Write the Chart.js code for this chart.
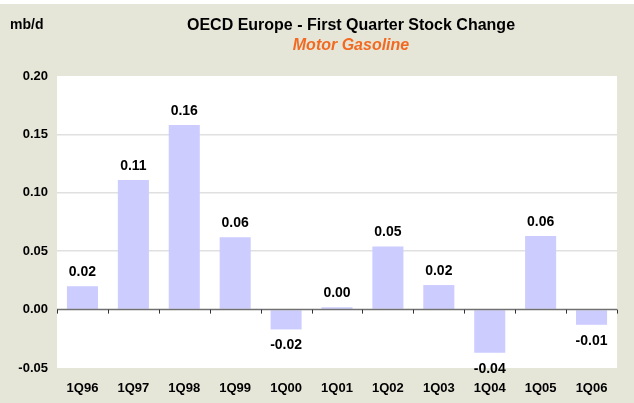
<!DOCTYPE html>
<html>
<head>
<meta charset="utf-8">
<script src="https://cdn.jsdelivr.net/npm/chart.js@4/dist/chart.umd.min.js"></script>
<style>
  html, body { margin: 0; padding: 0; background: #fff; }
  #wrap { width: 634px; height: 403px; position: relative; }
</style>
</head>
<body>
<div id="wrap"><canvas id="myChart" width="634" height="403"></canvas></div>
<script>
// chart data
var categories = ['1Q96', '1Q97', '1Q98', '1Q99', '1Q00', '1Q01', '1Q02', '1Q03', '1Q04', '1Q05', '1Q06'];
var stockChange = [0.020, 0.111, 0.158, 0.062, -0.017, 0.002, 0.054, 0.021, -0.037, 0.063, -0.013];
var yTicks = [-0.05, 0.00, 0.05, 0.10, 0.15, 0.20];

var FONT = "'Liberation Sans', Arial, Helvetica, sans-serif";

// beige background, titles and unit label
var frame = {
    id: 'frame',
    beforeDraw: function(chart) {
        var ctx = chart.ctx;
        ctx.save();
        ctx.fillStyle = '#E6E6D8';
        ctx.fillRect(0, 4, chart.width, chart.height - 4);
        var a = chart.chartArea;
        ctx.fillStyle = '#ffffff';
        ctx.fillRect(a.left, a.top, a.right - a.left, a.bottom - a.top);
        ctx.restore();
    },
    afterDraw: function(chart) {
        var ctx = chart.ctx;
        ctx.save();
        ctx.textAlign = 'center';
        ctx.textBaseline = 'middle';
        ctx.fillStyle = '#000';
        ctx.font = 'bold 16px ' + FONT;
        ctx.fillText('OECD Europe - First Quarter Stock Change', 351, 26);
        ctx.fillStyle = '#F26A21';
        ctx.font = 'italic bold 16px ' + FONT;
        ctx.fillText('Motor Gasoline', 351, 46);
        ctx.fillStyle = '#000';
        ctx.textAlign = 'left';
        ctx.font = 'bold 14px ' + FONT;
        ctx.fillText('mb/d', 10, 25);
        ctx.restore();
    }
};

// zero line with category ticks, and value labels
var marks = {
    id: 'marks',
    afterDatasetsDraw: function(chart) {
        var ctx = chart.ctx;
        var x = chart.scales.x, y = chart.scales.y;
        var y0 = y.getPixelForValue(0);
        ctx.save();
        ctx.strokeStyle = '#707070';
        ctx.lineWidth = 1.5;
        ctx.beginPath();
        ctx.moveTo(chart.chartArea.left, y0);
        ctx.lineTo(chart.chartArea.right, y0);
        ctx.stroke();
        ctx.lineWidth = 1;
        ctx.strokeStyle = '#333';
        var step = (x.right - x.left) / categories.length;
        for (var i = 0; i <= categories.length; i++) {
            var px = Math.round(x.left + i * step) + 0.5;
            ctx.beginPath();
            ctx.moveTo(px, y0);
            ctx.lineTo(px, y0 + 4);
            ctx.stroke();
        }
        var meta = chart.getDatasetMeta(0);
        ctx.fillStyle = '#000';
        ctx.font = 'bold 14px ' + FONT;
        ctx.textAlign = 'center';
        meta.data.forEach(function(bar, i) {
            var v = stockChange[i];
            var txt = v.toFixed(2);
            if (txt === '-0.00') txt = '0.00';
            if (v >= 0) {
                ctx.textBaseline = 'bottom';
                ctx.fillText(txt, bar.x, bar.y - 7);
            } else {
                ctx.textBaseline = 'top';
                ctx.fillText(txt, bar.x, bar.y + 9);
            }
        });
        ctx.restore();
    }
};

var ctx = document.getElementById('myChart').getContext('2d');
var config = {
    type: 'bar',
    data: {
        labels: categories,
        datasets: [{
            data: stockChange,
            backgroundColor: '#CCCCFF',
            borderWidth: 0,
            categoryPercentage: 1,
            barPercentage: 0.61
        }]
    },
    options: {
        responsive: false,
        animation: false,
        layout: { padding: { top: 76, right: 17, bottom: 0, left: 0 } },
        plugins: {
            legend: { display: false },
            title: { display: false },
            tooltip: { enabled: false }
        },
        scales: {
            x: {
                grid: { display: false, drawTicks: false },
                border: { display: false },
                ticks: {
                    color: '#000',
                    font: { family: FONT, size: 13, weight: 'bold' },
                    padding: 13,
                    maxRotation: 0
                },
                afterFit: function(s) { s.height = 35; }
            },
            y: {
                min: -0.05,
                max: 0.20,
                afterBuildTicks: function(s) {
                    s.ticks = yTicks.map(function(v) { return { value: v }; });
                },
                grid: {
                    color: function(c) {
                        var v = c.tick && c.tick.value;
                        if (Math.abs(v) < 1e-9 || Math.abs(v + 0.05) < 1e-9 || Math.abs(v - 0.2) < 1e-9) return 'rgba(0,0,0,0)';
                        return '#E0E0E0';
                    },
                    lineWidth: 1.5,
                    drawTicks: false
                },
                border: { display: false },
                ticks: {
                    color: '#000',
                    font: { family: FONT, size: 13, weight: 'bold' },
                    padding: 9,
                    callback: function(v) { return v.toFixed(2); }
                },
                afterFit: function(s) { s.width = 57; }
            }
        }
    },
    plugins: [frame, marks]
};
var myChart = new Chart(ctx, config);
</script>
</body>
</html>
